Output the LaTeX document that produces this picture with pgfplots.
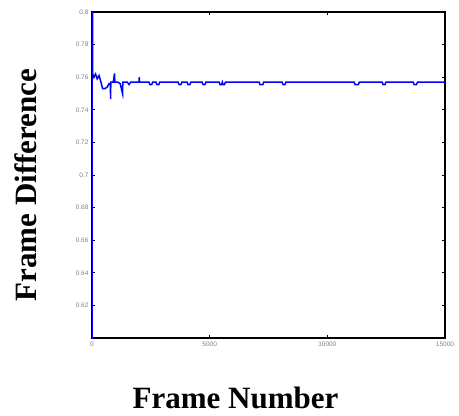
\documentclass[border=0pt]{standalone}
\usepackage{fontspec}
\setmainfont{Liberation Serif}
\newfontfamily\ticksans{Liberation Sans}
\usepackage{pgfplots}
\pgfplotsset{compat=1.18}

\begin{document}
\begin{tikzpicture}
\begin{axis}[
  scale only axis,
  width=353pt, height=326pt,
  xmin=0, xmax=15000,
  ymin=0.6, ymax=0.8,
  xtick={0,5000,10000,15000},
  ytick={0.62,0.64,0.66,0.68,0.7,0.72,0.74,0.76,0.78,0.8},
  yticklabels={0.62,0.64,0.66,0.68,0.7,0.72,0.74,0.76,0.78,0.8},
  scaled x ticks=false,
  xticklabel style={/pgf/number format/1000 sep={}},
  /pgf/number format/assume math mode=true,
  tick label style={font=\ticksans\fontsize{6.5}{7}\selectfont, text=gray},
  tick align=inside,
  major tick length=3pt,
  tick style={black, thick},
  axis line style={black, line width=1.2pt},
  xlabel={\textbf{Frame Number}},
  ylabel={\textbf{Frame Difference}},
  label style={font=\fontsize{31}{34}\selectfont},
  xlabel style={at={(rel axis cs:0.5,0)}, anchor=base, xshift=-33pt, yshift=-70pt},
  ylabel style={at={(rel axis cs:0,0.5)}, anchor=base, xshift=-10pt, yshift=55pt},
]
\addplot[blue, line width=1.5pt] coordinates {
(0,0.55)(10,0.85)(30,0.762)(80,0.760)(150,0.762)(220,0.759)(300,0.761)(380,0.757)
(450,0.753)(550,0.753)(650,0.754)(720,0.756)(780,0.756)(790,0.7467)(800,0.757)
(900,0.757)(960,0.7623)(970,0.757)(1100,0.757)(1200,0.756)(1300,0.7498)(1310,0.757)
(1500,0.757)(1570,0.7555)(1650,0.757)(2000,0.757)(2010,0.760)(2020,0.757)
(2420,0.757)(2460,0.7555)(2540,0.7555)(2580,0.757)
(2720,0.757)(2760,0.7555)(2840,0.7555)(2880,0.757)
(3660,0.757)(3700,0.7555)(3780,0.7555)(3820,0.757)
(4040,0.757)(4080,0.7555)(4160,0.7555)(4200,0.757)
(4680,0.757)(4720,0.7555)(4800,0.7555)(4840,0.757)
(5400,0.757)(5440,0.7555)(5500,0.7555)(5540,0.757)(5570,0.7555)(5630,0.7555)(5670,0.757)
(7100,0.757)(7140,0.7555)(7260,0.7555)(7300,0.757)
(8080,0.757)(8120,0.7555)(8200,0.7555)(8240,0.757)
(11140,0.757)(11180,0.7555)(11320,0.7555)(11360,0.757)
(12330,0.757)(12370,0.7555)(12450,0.7555)(12490,0.757)
(13650,0.757)(13690,0.7555)(13790,0.7555)(13830,0.757)
(15000,0.757)
};
\coordinate (SW) at (rel axis cs:0,0);
\end{axis}
\path ([shift={(-92pt,-78pt)}]SW) rectangle ([shift={(367pt,338pt)}]SW);
\end{tikzpicture}
\end{document}
